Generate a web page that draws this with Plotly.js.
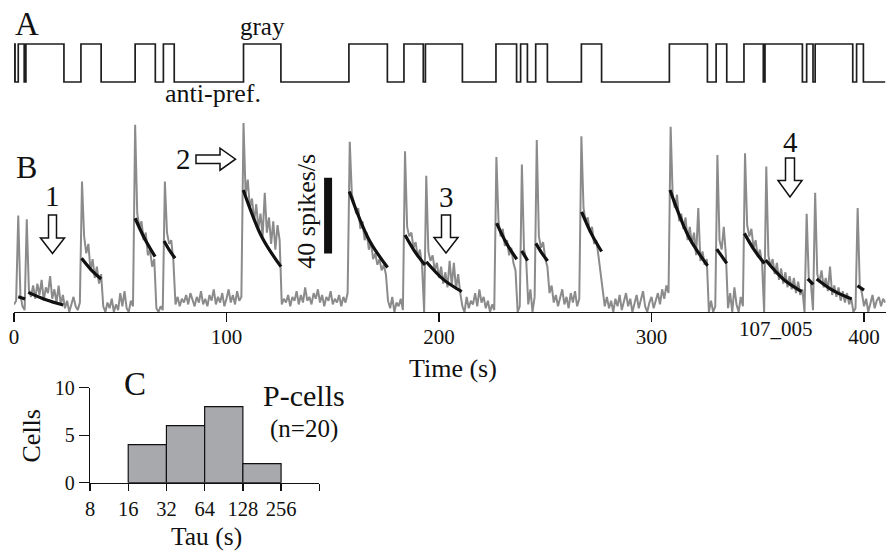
<!DOCTYPE html>
<html>
<head>
<meta charset="utf-8">
<script src="https://cdn.plot.ly/plotly-3.0.1.min.js"></script>
<style>html,body{margin:0;padding:0;background:#fff;}#chart{width:893px;height:552px;}</style>
</head>
<body>
<div id="chart"></div>
<script>
// ---------- Panel A: stimulus sequence (1 = gray, 0 = anti-pref.) ----------
const stimT = [0, 0, 0.5, 2.0, 4.8, 5.6, 23.5, 31.5, 41, 57, 66.5, 70.3, 75.4, 108, 125.6, 157.6, 175.7, 183.5, 192.6, 193.6, 211, 226.8, 236.5, 238.4, 241.6, 245.5, 251, 267, 276.5, 308.4, 326.3, 330.4, 335.4, 343.5, 352.6, 353.4, 371, 373, 376, 377, 394.7, 396.5, 399.7, 410];
const stimV = [0, 1, 0, 1, 0, 1, 0, 1, 0, 1, 0, 1, 0, 1, 0, 1, 0, 1, 0, 1, 0, 1, 0, 1, 0, 1, 0, 1, 0, 1, 0, 1, 0, 1, 0, 1, 0, 1, 0, 1, 0, 1, 0, 0];

// ---------- Panel B: firing rate (spikes/s), 1-s bins ----------
const rate000 = [4,6,51,9,3,1,49,12,8,14, 7,15,9,17,6,13,10,19,7,12, 5,14,4,9,2,6,0,4,8,3, 1,5,69,40,31,36,22,28,18,24, 15,20,3,0,5,2,7,0,4,1, 10,3,11,2,0,6,3,99,52,45, 48,38,42,30,33,24,28,2,0,3, 1,69,42,36,38,27,4,8,3,7, 5,9,4,10,6,3,8,5,11,4, 7,3,9,6,12,4,8,5,10,3];
const rate100 = [7,12,5,9,4,11,6,8,100,62, 70,55,60,48,57,44,52,40,63,42, 50,36,48,33,46,38,4,7,5,9, 3,8,6,11,4,9,5,13,6,8, 4,10,7,12,5,9,3,8,6,11, 4,7,5,9,3,8,5,10,90,62, 58,52,55,44,48,38,42,33,37,28, 31,25,28,22,25,20,6,2,8,0, 5,3,7,1,85,45,40,42,34,37, 29,33,25,0,72,32,27,30,22,26];
const rate200 = [18,24,15,21,13,27,14,26,12,20, 10,3,0,8,2,6,4,10,3,12, 5,8,2,6,0,4,1,82,48,40, 44,35,38,30,34,26,22,0,3,78, 33,28,4,12,0,8,91,40,34,37, 28,24,10,14,5,9,3,7,12,4, 8,2,10,5,11,3,7,93,55,48, 50,42,45,36,38,30,22,12,3,8, 2,6,0,7,3,9,1,5,10,3, 7,0,4,9,2,6,11,3,0,5];
const rate300 = [8,2,6,10,4,12,7,14,10,98, 60,55,62,48,52,44,50,38,45,36, 42,30,55,27,32,25,28,0,6,0, 3,83,38,33,45,30,2,10,0,13, 4,0,8,3,84,46,40,44,34,38, 29,33,26,0,77,30,24,28,20,26, 17,23,15,21,13,19,12,18,10,16, 9,12,0,52,18,15,1,63,20,16, 22,13,18,11,24,9,14,8,13,6, 11,5,10,4,7,0,2,55,14,10, 3,7,0,5,9,2,6,8,3,7,5];

// exponential fits (start / middle / end of each fit segment), null = gap
const fitT = [2,5.2,null, 6.7,15,23.2,null, 31.8,36.4,41,null, 57,61.7,66.4,null, 70.6,73.2,75.8,null, 107.9,116.7,125.6,null, 157.8,166.8,175.8,null, 184,188.7,193.4,null, 194,202.3,210.7,null, 227.1,231.8,236.6,null, 238.9,241.7,null, 245.6,248.3,251.1,null, 267.1,271.8,276.5,null, 308.7,317.5,326.4,null, 330.7,335.4,null, 343.7,348.4,353.1,null, 353.7,362.2,370.7,null, 373.5,376.1,null, 377.7,386,394.2,null, 396.9,400];
const fitR = [8.1,6.9,null, 10.4,6.5,3.7,null, 28.4,22.2,17.5,null, 49.6,38.3,29.3,null, 37.6,32.6,28.4,null, 64.5,39.5,24,null, 63.7,38.8,23.5,null, 40.7,31.8,24.9,null, 26.6,17,10.8,null, 47,36.2,27.9,null, 32.3,27.2,null, 36.3,31.3,27,null, 53,41.2,32,null, 64.5,39.8,24.5,null, 33.3,25.7,null, 41.6,32.7,25.7,null, 27.5,17.2,10.8,null, 17.5,14.6,null, 17.5,11,6.9,null, 13.9,11.6];

const timeTicks = [0, 100, 200, 300, 400];
const scaleBar = {t: 147.8, from: 31, size: 40};

// ---------- Panel C: histogram of Tau ----------
const tauEdges = [16, 32, 64, 128, 256];
const cellCounts = [4, 6, 8, 2];
const tauTicks = [8, 16, 32, 64, 128, 256, 512];
const tauTickText = ['8', '16', '32', '64', '128', '256', ''];
const cellTicks = [0, 5, 10];

// ---------- helpers (pixel -> paper) ----------
const W = 893, H = 552;
const X = p => p / W;
const Y = p => 1 - p / H;
const FONT = 'Liberation Serif, Times New Roman, serif';

const rate = rate000.concat(rate100, rate200, rate300);
const rateT = rate.map((_, i) => i);

const traces = [];
traces.push({x: stimT, y: stimV, xaxis: 'x2', yaxis: 'y2', mode: 'lines', line: {shape: 'hv', color: '#1e1e1e', width: 1.7}, hoverinfo: 'skip'});
traces.push({x: rateT, y: rate, xaxis: 'x', yaxis: 'y', mode: 'lines', line: {color: '#8b8b8b', width: 2}, hoverinfo: 'skip'});
traces.push({x: fitT, y: fitR, xaxis: 'x', yaxis: 'y', mode: 'lines', connectgaps: false, line: {shape: 'spline', color: '#111', width: 3.2}, hoverinfo: 'skip'});

for (let i = 0; i < cellCounts.length; i++) {
  const a = tauEdges[i], b = tauEdges[i + 1], c = cellCounts[i];
  traces.push({x: [a, a, b, b, a], y: [0, c, c, 0, 0], xaxis: 'x3', yaxis: 'y3', mode: 'lines', fill: 'toself', fillcolor: '#a8a9ac', line: {color: '#111', width: 1.2}, hoverinfo: 'skip'});
}

function arrowDown(cx, y0, y1, y2, sw, hw) {
  const pts = [[cx - sw, y0], [cx + sw, y0], [cx + sw, y1], [cx + hw, y1], [cx, y2], [cx - hw, y1], [cx - sw, y1]];
  return 'M' + pts.map(p => X(p[0]) + ',' + Y(p[1])).join(' L') + ' Z';
}
function arrowRight(cy, x0, x1, x2, sw, hw) {
  const pts = [[x0, cy - sw], [x1, cy - sw], [x1, cy - hw], [x2, cy], [x1, cy + hw], [x1, cy + sw], [x0, cy + sw]];
  return 'M' + pts.map(p => X(p[0]) + ',' + Y(p[1])).join(' L') + ' Z';
}
const arrowStyle = {type: 'path', xref: 'paper', yref: 'paper', line: {color: '#111', width: 1.5}, fillcolor: '#fff'};
const shapes = [
  Object.assign({path: arrowDown(52.5, 215, 238, 253.5, 4, 12)}, arrowStyle),
  Object.assign({path: arrowRight(159.2, 196, 220, 235.5, 4.2, 11)}, arrowStyle),
  Object.assign({path: arrowDown(446, 215, 237.5, 253, 4.5, 12)}, arrowStyle),
  Object.assign({path: arrowDown(790, 158, 180.5, 197, 4.5, 12)}, arrowStyle),
  {type: 'line', xref: 'x', yref: 'y', x0: scaleBar.t, x1: scaleBar.t, y0: scaleBar.from, y1: scaleBar.from + scaleBar.size, line: {color: '#111', width: 8}}
];

function txt(text, px, py, size, extra) {
  return Object.assign({text: text, x: X(px), y: Y(py), xref: 'paper', yref: 'paper', xanchor: 'center', yanchor: 'middle', showarrow: false, font: {family: FONT, size: size, color: '#111'}}, extra || {});
}
const annotations = [
  txt('A', 26.5, 23.5, 33),
  txt('B', 26, 167, 32),
  txt('C', 135, 384, 33),
  txt('gray', 262.5, 26.3, 25),
  txt('anti-pref.', 213, 94, 26),
  txt('1', 52, 196.5, 29),
  txt('2', 183, 158.5, 29),
  txt('3', 446, 197, 29),
  txt('4', 790.5, 142, 29),
  txt('40 spikes/s', 307, 211.7, 26, {textangle: -90}),
  txt('107_005', 776, 328.6, 21),
  txt('Time (s)', 453, 368, 26),
  txt('P-cells', 304, 395, 30),
  txt('(n=20)', 303.5, 428.5, 25),
  txt('Tau (s)', 206.7, 536, 25.5),
  txt('Cells', 31, 436.5, 26, {textangle: -90})
];

const tfont = s => ({family: FONT, size: s, color: '#111'});
const layout = {
  width: W, height: H,
  margin: {l: 0, r: 0, t: 0, b: 0},
  paper_bgcolor: '#fff', plot_bgcolor: 'rgba(0,0,0,0)',
  showlegend: false,
  xaxis: {domain: [X(14), X(885.7)], range: [0, 410.2], anchor: 'y', showline: true, linecolor: '#111', linewidth: 1.3,
          ticks: 'outside', ticklen: 9, tickwidth: 1.3, tickcolor: '#111', tickvals: timeTicks, tickfont: tfont(21),
          ticklabelstandoff: -4, showgrid: false, zeroline: false, fixedrange: true},
  yaxis: {domain: [Y(312), Y(115)], range: [0, 104.2], anchor: 'x', visible: false, fixedrange: true},
  xaxis2: {domain: [X(14), X(885.7)], range: [0, 410.2], anchor: 'y2', visible: false, fixedrange: true},
  yaxis2: {domain: [Y(85.8), Y(40.2)], range: [-0.1, 1.1], anchor: 'x2', visible: false, fixedrange: true},
  xaxis3: {type: 'log', domain: [X(90), X(319.3)], range: [Math.log10(8), Math.log10(512)], anchor: 'y3', showline: true, linecolor: '#111', linewidth: 1.3,
           ticks: 'outside', ticklen: 7, tickwidth: 1.3, tickcolor: '#111', tickvals: tauTicks, ticktext: tauTickText, tickfont: tfont(20.5),
           showgrid: false, zeroline: false, fixedrange: true},
  yaxis3: {domain: [Y(482.7), Y(387.7)], range: [0, 10], anchor: 'x3', showline: true, linecolor: '#111', linewidth: 1.3,
           ticks: 'outside', ticklen: 10, tickwidth: 1.3, tickcolor: '#111', tickvals: cellTicks, tickfont: tfont(20),
           showgrid: false, zeroline: false, fixedrange: true},
  shapes: shapes,
  annotations: annotations
};

Plotly.newPlot('chart', traces, layout, {displayModeBar: false, staticPlot: true});
</script>
</body>
</html>
